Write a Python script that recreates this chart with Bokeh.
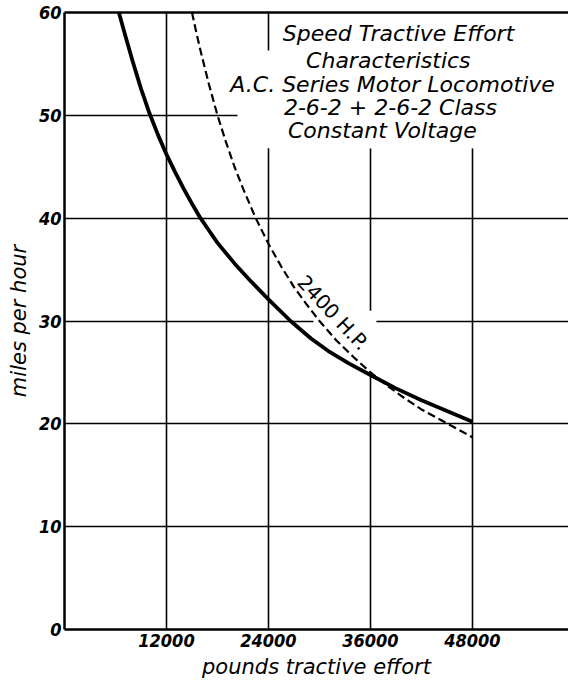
from bokeh.plotting import figure
from bokeh.models import Range1d, LinearAxis, FixedTicker, Label, BoxAnnotation
from bokeh.embed import file_html
from bokeh.resources import INLINE

# ---- data ----
motor_effort = [6400, 7000, 8000, 9000, 10000, 11000, 12000, 13000, 14000, 15000, 16000,
                17000, 18000, 20000, 22000, 24000, 26600, 29000, 31000, 33500, 36000,
                39000, 42000, 45000, 48000]
motor_speed = [60, 58.2, 55.3, 52.6, 50.2, 48.1, 46.2, 44.5, 42.9, 41.4, 40.0,
               38.8, 37.6, 35.6, 33.8, 32.1, 30.0, 28.3, 27.1, 25.85, 24.75,
               23.45, 22.3, 21.25, 20.2]

hp_effort = [15000, 15500, 16000, 17000, 18000, 19000, 20000, 21000, 22500, 24000,
             25500, 27000, 28500, 30000, 32000, 34000, 36000, 38000, 40000, 42000,
             44000, 46000, 48000]
hp_speed = [60, 58.1, 56.3, 53.0, 50.0, 47.4, 45.0, 42.9, 40.0, 37.5,
            35.3, 33.3, 31.6, 30.0, 28.1, 26.5, 25.0, 23.7, 22.5, 21.4,
            20.5, 19.6, 18.7]

x_ticks = [12000, 24000, 36000, 48000]
y_ticks = [0, 10, 20, 30, 40, 50, 60]

title_lines = ["Speed Tractive Effort", "Characteristics", "A.C. Series Motor Locomotive",
               "2-6-2 + 2-6-2 Class", "Constant Voltage"]
hp_label = "2400 H.P."
x_title = "pounds tractive effort"
y_title = "miles per hour"

FONT = "DejaVu Sans"
TICK_FONT = "DejaVu Sans Condensed"

p = figure(width=568, height=681, output_backend="svg", toolbar_location=None,
           x_range=Range1d(0, 59300), y_range=Range1d(0, 60),
           min_border_left=64, min_border_right=0, min_border_top=12, min_border_bottom=52)
p.background_fill_color = "white"
p.border_fill_color = "white"
p.outline_line_color = None

# axes
p.xaxis.ticker = FixedTicker(ticks=x_ticks)
p.yaxis.ticker = FixedTicker(ticks=y_ticks)
for ax in (p.xaxis[0], p.yaxis[0]):
    ax.major_tick_line_color = None
    ax.minor_tick_line_color = None
    ax.major_tick_out = 0
    ax.major_tick_in = 0
    ax.minor_tick_out = 0
    ax.minor_tick_in = 0
    ax.axis_line_color = "black"
    ax.axis_line_width = 2.5
    ax.major_label_text_font = TICK_FONT
    ax.major_label_text_font_style = "bold italic"
    ax.major_label_text_font_size = "18px"
    ax.major_label_text_color = "black"
    ax.axis_label_text_font = FONT
    ax.axis_label_text_font_style = "italic"
    ax.axis_label_text_font_size = "21px"
    ax.axis_label_text_color = "black"
p.xaxis.axis_label = x_title
p.yaxis.axis_label = y_title
p.xaxis.major_label_standoff = 4
p.xaxis.axis_label_standoff = 5
p.yaxis.major_label_standoff = 3
p.yaxis.axis_label_standoff = 5
p.yaxis.major_label_orientation = "horizontal"

top = LinearAxis(ticker=FixedTicker(ticks=[]), major_tick_line_color=None,
                 minor_tick_line_color=None, major_tick_out=0, major_label_text_font_size="0px",
                 major_label_standoff=0, axis_line_width=2.5)
p.add_layout(top, "above")

# grid
p.xgrid.ticker = FixedTicker(ticks=x_ticks)
p.ygrid.ticker = FixedTicker(ticks=y_ticks[1:-1])
for g in (p.xgrid[0], p.ygrid[0]):
    g.grid_line_color = "black"
    g.grid_line_width = 1.6
    g.grid_line_alpha = 1.0

# white masks where the drawn grid is interrupted by lettering
for (l, r, b, t) in [(20350, 59300, 46.8, 56.3), (28500, 59300, 46.8, 60),
                     (29300, 36700, 24.9, 31.0)]:
    p.add_layout(BoxAnnotation(left=l, right=r, bottom=b, top=t, fill_color="white",
                               fill_alpha=1.0, line_color=None, level="underlay"))

# curves
p.line(hp_effort, hp_speed, line_color="black", line_width=2.2, line_dash="8 4")
p.line(motor_effort, motor_speed, line_color="black", line_width=3.8, line_join="round")

# title block
title_x = [39300, 38100, 38600, 38350, 37400]
title_y = [58.0, 55.35, 53.0, 50.8, 48.5]
for txt, tx, ty in zip(title_lines, title_x, title_y):
    p.add_layout(Label(x=tx, y=ty, text=txt, text_align="center", text_baseline="middle",
                       text_font=FONT, text_font_style="italic", text_font_size="22px",
                       text_color="black"))

p.add_layout(Label(x=31600, y=30.8, text=hp_label, angle=-47, angle_units="deg",
                   text_align="center", text_baseline="middle", text_font=FONT,
                   text_font_size="20px", text_color="black"))

open("out.html", "w").write(file_html(p, INLINE))
